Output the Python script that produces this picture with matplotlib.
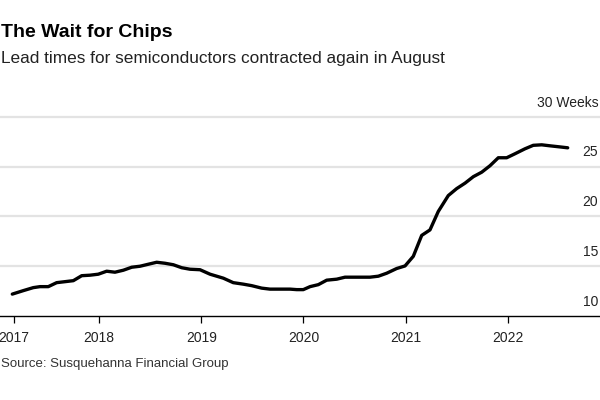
import matplotlib
matplotlib.use("Agg")
import matplotlib.pyplot as plt

# Lead times (weeks); x in decimal years
years = [2017.152, 2017.260, 2017.357, 2017.423, 2017.504, 2017.586, 2017.668,
         2017.749, 2017.831, 2017.912, 2017.993, 2018.075, 2018.156, 2018.238,
         2018.320, 2018.401, 2018.482, 2018.564, 2018.645, 2018.727, 2018.809,
         2018.890, 2018.988, 2019.086, 2019.216, 2019.313, 2019.411, 2019.493,
         2019.591, 2019.672, 2019.770, 2019.868, 2019.934, 2019.998, 2020.064,
         2020.145, 2020.227, 2020.325, 2020.406, 2020.520, 2020.650, 2020.732,
         2020.814, 2020.911, 2020.993, 2021.074, 2021.156, 2021.237, 2021.318,
         2021.416, 2021.498, 2021.580, 2021.661, 2021.743, 2021.824, 2021.905,
         2021.987, 2022.068, 2022.166, 2022.247, 2022.330, 2022.411, 2022.499,
         2022.584]
weeks = [12.2, 12.55, 12.85, 12.95, 12.95, 13.35, 13.45,
         13.55, 14.05, 14.1, 14.2, 14.5, 14.4, 14.6,
         14.9, 15.0, 15.2, 15.4, 15.3, 15.15, 14.85,
         14.7, 14.65, 14.2, 13.8, 13.35, 13.2, 13.05,
         12.8, 12.7, 12.7, 12.7, 12.65, 12.65, 12.95,
         13.15, 13.6, 13.7, 13.9, 13.9, 13.9, 14.0,
         14.3, 14.77, 15.03, 16.0, 18.1, 18.65, 20.5,
         22.1, 22.8, 23.35, 24.0, 24.45, 25.1, 25.9,
         25.9, 26.3, 26.8, 27.15, 27.2, 27.1, 27.0,
         26.9]

xtick_pos = [2017.17, 2018, 2019, 2020, 2021, 2022]
xtick_labels = ["2017", "2018", "2019", "2020", "2021", "2022"]
ytick_pos = [10, 15, 20, 25, 30]
ytick_labels = ["10", "15", "20", "25", "30 Weeks"]

plt.rcParams['font.family'] = ['Liberation Sans', 'DejaVu Sans']

fig = plt.figure(figsize=(6, 4), dpi=100)
ax = fig.add_axes([0, 0.21, 1, 0.5225])

for y in ytick_pos[1:]:
    ax.axhline(y, color='#e3e3e3', lw=1.6, zorder=1)

ax.plot(years, weeks, color='black', lw=2.4, solid_joinstyle='round',
        solid_capstyle='round', zorder=3)

ax.set_xlim(2017.0318, 2022.8998)
ax.set_ylim(10, 31)

for s in ['top', 'right', 'left']:
    ax.spines[s].set_visible(False)
ax.spines['bottom'].set_color('black')
ax.spines['bottom'].set_linewidth(1.0)

ax.set_yticks([])
ax.set_xticks(xtick_pos)
ax.set_xticklabels(xtick_labels, fontsize=10, color='#222222')
ax.tick_params(axis='x', direction='out', length=5, width=0.9, pad=6, color='black')

# y labels sit above their gridlines, right aligned at the edge
for y, lab in zip(ytick_pos, ytick_labels):
    ax.annotate(lab, xy=(0.997, y), xycoords=('axes fraction', 'data'),
                xytext=(0, 7.5), textcoords='offset points',
                ha='right', va='baseline', fontsize=10, color='#222222',
                annotation_clip=False)

fig.text(0.001, 1 - 37 / 400, "The Wait for Chips", fontsize=14,
         fontweight='bold', color='black', va='baseline', ha='left')
fig.text(0.001, 1 - 63.3 / 400,
         "Lead times for semiconductors contracted again in August",
         fontsize=12.4, color='#222222', va='baseline', ha='left')
fig.text(0.001, 1 - 367.3 / 400, "Source: Susquehanna Financial Group",
         fontsize=9.5, color='#333333', va='baseline', ha='left')

fig.savefig("out.png", dpi=100)
